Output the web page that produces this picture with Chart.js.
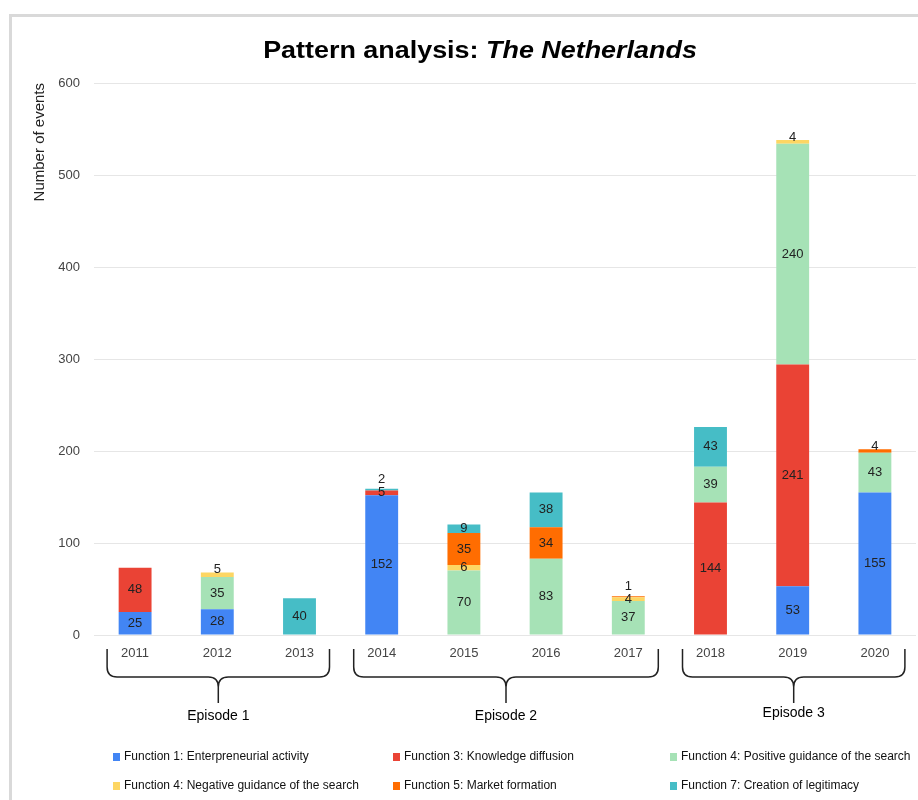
<!DOCTYPE html>
<html>
<head>
<meta charset="utf-8">
<script src="https://cdn.jsdelivr.net/npm/chart.js@4"></script>
<style>
  body { margin: 0; background: #fff; }
  #frame { position: absolute; left: 9px; top: 14px; width: 930px; height: 800px;
           border-left: 3px solid #d9d9d9; border-top: 3px solid #d9d9d9; }
  #c { position: absolute; left: 0; top: 0; }
</style>
</head>
<body>
<div id="frame"></div>
<canvas id="c" width="918" height="800"></canvas>
<script>
const years = ['2011', '2012', '2013', '2014', '2015', '2016', '2017', '2018', '2019', '2020'];
const entrepreneurial = [25, 28, 0, 152, 0, 0, 0, 0, 53, 155];
const knowledge = [48, 0, 0, 5, 0, 0, 0, 144, 241, 0];
const positiveGuidance = [0, 35, 0, 0, 70, 83, 37, 39, 240, 43];
const negativeGuidance = [0, 5, 0, 0, 6, 0, 4, 0, 4, 0];
const marketFormation = [0, 0, 0, 0, 35, 34, 1, 0, 0, 4];
const legitimacy = [0, 0, 40, 2, 9, 38, 0, 43, 0, 0];

const episodes = ['Episode 1', 'Episode 2', 'Episode 3'];
const episodeFirst = [0, 3, 7];
const episodeLast = [2, 6, 9];

const FONT = '"Liberation Sans", Arial, sans-serif';

// numbers inside the bars, pushed up when they would collide
const valueLabels = {
  id: 'valueLabels',
  afterDatasetsDraw(chart) {
    const ctx = chart.ctx;
    ctx.save();
    ctx.font = '13px ' + FONT;
    ctx.fillStyle = '#222';
    ctx.textAlign = 'center';
    ctx.textBaseline = 'middle';
    const sets = chart.data.datasets;
    chart.data.labels.forEach((_, i) => {
      let topIdx = -1;
      sets.forEach((ds, d) => { if (ds.data[i]) topIdx = d; });
      let prevY = null;
      sets.forEach((ds, d) => {
        const v = ds.data[i];
        if (!v) return;
        const bar = chart.getDatasetMeta(d).data[i];
        const h = bar.base - bar.y;
        let y = bar.y + h / 2;
        if (d === topIdx && h < 6) y = Math.min(y, bar.y - 3);
        if (prevY !== null && prevY - y < 13) y = prevY - 13;
        ctx.fillText(v, bar.x, y);
        prevY = y;
      });
    });
    ctx.restore();
  }
};

// title, braces under the axis, legend
const decorations = {
  id: 'decorations',
  afterDraw(chart) {
    const ctx = chart.ctx;
    const x = chart.scales.x;
    ctx.save();

    // title with italic part (the original font is wider, so stretch a bit)
    const t1 = 'Pattern analysis: ';
    const t2 = 'The Netherlands';
    const stretch = 1.17;
    ctx.fillStyle = '#000';
    ctx.textBaseline = 'alphabetic';
    ctx.font = 'bold 23px ' + FONT;
    const w1 = ctx.measureText(t1).width;
    ctx.font = 'italic bold 23px ' + FONT;
    const w2 = ctx.measureText(t2).width;
    ctx.save();
    ctx.translate(480 - (w1 + w2) * stretch / 2, 58);
    ctx.scale(stretch, 1);
    ctx.textAlign = 'left';
    ctx.font = 'bold 23px ' + FONT;
    ctx.fillText(t1, 0, 0);
    ctx.font = 'italic bold 23px ' + FONT;
    ctx.fillText(t2, w1, 0);
    ctx.restore();

    // braces
    ctx.strokeStyle = '#222';
    ctx.lineWidth = 1.5;
    const top = 649, mid = 677, tip = 703, r = 10;
    episodes.forEach((name, k) => {
      const L = x.getPixelForValue(episodeFirst[k]) - 28;
      const R = x.getPixelForValue(episodeLast[k]) + 30;
      const C = (L + R) / 2;
      ctx.beginPath();
      ctx.moveTo(L, top);
      ctx.lineTo(L, mid - r);
      ctx.quadraticCurveTo(L, mid, L + r, mid);
      ctx.lineTo(C - r, mid);
      ctx.quadraticCurveTo(C, mid, C, mid + r);
      ctx.lineTo(C, tip);
      ctx.moveTo(R, top);
      ctx.lineTo(R, mid - r);
      ctx.quadraticCurveTo(R, mid, R - r, mid);
      ctx.lineTo(C + r, mid);
      ctx.quadraticCurveTo(C, mid, C, mid + r);
      ctx.stroke();
      ctx.fillStyle = '#000';
      ctx.font = '14px ' + FONT;
      ctx.textAlign = 'center';
      ctx.textBaseline = 'middle';
      ctx.fillText(name, C, k === 2 ? 713 : 716);
    });

    // legend, 3 columns x 2 rows
    const colX = [116, 396, 673];
    const rowY = [757, 786];
    ctx.font = '12px ' + FONT;
    ctx.textAlign = 'left';
    ctx.textBaseline = 'middle';
    chart.data.datasets.forEach((ds, d) => {
      const cx = colX[d % 3], cy = rowY[Math.floor(d / 3)];
      ctx.fillStyle = ds.backgroundColor;
      ctx.fillRect(cx - 3, cy - 4, 7, 8);
      ctx.fillStyle = '#111';
      ctx.fillText(ds.label, cx + 8, cy);
    });
    ctx.restore();
  }
};

new Chart(document.getElementById('c'), {
  type: 'bar',
  data: {
    labels: years,
    datasets: [
      { label: 'Function 1: Enterpreneurial activity', data: entrepreneurial, backgroundColor: '#4285F4' },
      { label: 'Function 3: Knowledge diffusion', data: knowledge, backgroundColor: '#EA4335' },
      { label: 'Function 4: Positive guidance of the search', data: positiveGuidance, backgroundColor: '#A6E2B6' },
      { label: 'Function 4: Negative guidance of the search', data: negativeGuidance, backgroundColor: '#FDD663' },
      { label: 'Function 5: Market formation', data: marketFormation, backgroundColor: '#FF6D01' },
      { label: 'Function 7: Creation of legitimacy', data: legitimacy, backgroundColor: '#46BDC6' }
    ]
  },
  options: {
    responsive: false,
    animation: false,
    categoryPercentage: 1,
    barPercentage: 0.4,
    layout: { padding: { top: 83, right: 2, left: 0, bottom: 0 } },
    plugins: {
      legend: { display: false },
      tooltip: { enabled: false }
    },
    scales: {
      x: {
        stacked: true,
        grid: { display: false },
        border: { display: false },
        ticks: { color: '#444', font: { family: FONT, size: 13 }, padding: 3 },
        afterFit(scale) { scale.height = 165; }
      },
      y: {
        stacked: true,
        min: 0,
        max: 600,
        ticks: { stepSize: 100, color: '#444', font: { family: FONT, size: 13 }, padding: 14 },
        grid: { color: '#e6e6e6', drawTicks: false },
        border: { display: false },
        title: {
          display: true,
          text: 'Number of events',
          align: 'end',
          color: '#222',
          font: { family: FONT, size: 15 },
          padding: { top: 31, bottom: 0 }
        },
        afterFit(scale) { scale.width = 94; }
      }
    }
  },
  plugins: [valueLabels, decorations]
});
</script>
</body>
</html>
